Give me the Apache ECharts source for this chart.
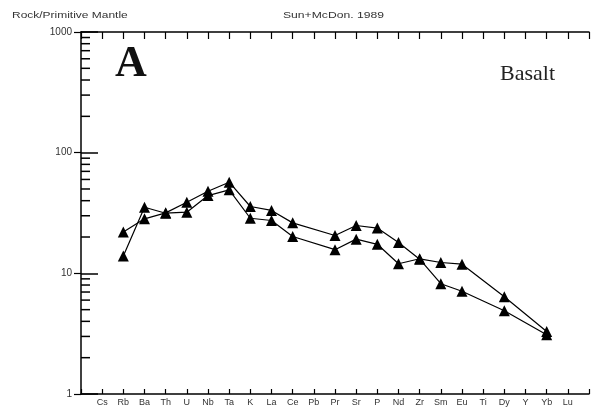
<!DOCTYPE html>
<html>
<head>
<meta charset="utf-8">
<script src="https://cdn.jsdelivr.net/npm/echarts@6/dist/echarts.min.js"></script>
<style>
  html, body { margin: 0; padding: 0; background: #fff; }
  #chart { width: 592px; height: 410px; }
</style>
</head>
<body>
<div id="chart"></div>
<script>
// spider diagram, normalised to primitive mantle (Sun & McDonough 1989)
const elements = ['Cs', 'Rb', 'Ba', 'Th', 'U', 'Nb', 'Ta', 'K', 'La', 'Ce', 'Pb', 'Pr',
  'Sr', 'P', 'Nd', 'Zr', 'Sm', 'Eu', 'Ti', 'Dy', 'Y', 'Yb', 'Lu']

// null = not analysed
const sampleA = [null, 22, 28.3, 31.7, 38.8, 47.9, 56.9, 35.8, 33.2, 26.2, null, 20.6,
  24.9, 23.7, 18.0, 13.1, 8.2, 7.1, null, 4.9, null, 3.1, null]
const sampleB = [null, 13.9, 35.3, 31.5, 32.1, 44.1, 49.2, 28.6, 27.4, 20.2, null, 15.7,
  19.2, 17.4, 12.0, 13.2, 12.3, 11.9, null, 6.4, null, 3.3, null]

const yTicks = [1, 10, 100, 1000]
const minorTicks = [2, 3, 4, 5, 6, 7, 8, 9, 20, 30, 40, 50, 60, 70, 80, 90,
  200, 300, 400, 500, 600, 700, 800, 900]

const sans = '"Liberation Sans", Arial, sans-serif'
const serif = '"Liberation Serif", "Times New Roman", serif'

// x position 0 and 24 are the frame edges, elements sit on 1..23
const toPoints = arr => arr
  .map((v, i) => v == null ? null : [i + 1, v])
  .filter(p => p)

const lineSeries = (name, arr) => ({
  name: name,
  type: 'line',
  data: toPoints(arr),
  symbol: 'triangle',
  symbolSize: 11,
  itemStyle: { color: '#000' },
  lineStyle: { color: '#000', width: 1.2 },
  emphasis: { disabled: true },
  z: 3
})

const xBase = {
  type: 'value',
  min: 0,
  max: elements.length + 1,
  interval: 1,
  axisLine: { lineStyle: { color: '#000', width: 1.5 } },
  splitLine: { show: false }
}

const yBase = {
  type: 'log',
  logBase: 10,
  min: 1,
  max: 1000,
  axisLine: { show: true, lineStyle: { color: '#000', width: 1.5 } },
  splitLine: { show: false }
}

const chart = echarts.init(document.getElementById('chart'), null, { renderer: 'canvas' })

chart.setOption({
  animation: false,
  backgroundColor: '#fff',
  grid: { left: 81, top: 32, width: 512, height: 362 },
  xAxis: [
    Object.assign({}, xBase, {
      position: 'bottom',
      axisTick: { inside: true, length: 5, lineStyle: { color: '#000', width: 1.2 } },
      axisLabel: {
        margin: 4,
        fontSize: 9,
        fontFamily: sans,
        color: '#333',
        formatter: v => elements[v - 1] || ''
      }
    }),
    Object.assign({}, xBase, {
      position: 'top',
      axisTick: { inside: true, length: 7, lineStyle: { color: '#000', width: 1.2 } },
      axisLabel: { show: false }
    })
  ],
  yAxis: [
    Object.assign({}, yBase, {
      position: 'left',
      axisTick: { inside: true, length: 17, lineStyle: { color: '#000', width: 1.5 } },
      axisLabel: {
        margin: 9,
        fontSize: 10,
        fontFamily: sans,
        color: '#333',
        formatter: v => yTicks.indexOf(v) >= 0 ? String(v) : ''
      }
    }),
    Object.assign({}, yBase, {
      position: 'right',
      // frame edge is cropped off in the original, only the ticks show
      axisLine: { show: false },
      axisTick: { inside: true, length: 7, lineStyle: { color: '#000', width: 1.2 } },
      axisLabel: { show: false }
    })
  ],
  graphic: [
    { type: 'text', left: 12, top: 11, scaleX: 1.33,
      style: { text: 'Rock/Primitive Mantle', font: '9px ' + sans, fill: '#333' } },
    { type: 'text', left: 283, top: 11, scaleX: 1.35,
      style: { text: 'Sun+McDon. 1989', font: '9px ' + sans, fill: '#333' } },
    { type: 'text', left: 115, top: 43, style: { text: 'A', font: 'bold 44px ' + serif, fill: '#111' } },
    { type: 'text', left: 500, top: 63, style: { text: 'Basalt', font: '22px ' + serif, fill: '#222' } }
  ],
  series: [
    lineSeries('A', sampleA),
    lineSeries('B', sampleB),
    {
      // log minor ticks on the left axis
      type: 'custom',
      silent: true,
      data: minorTicks.map(v => [0, v]),
      renderItem: (params, api) => {
        const p = api.coord([0, api.value(1)])
        return {
          type: 'line',
          shape: { x1: p[0], y1: p[1], x2: p[0] + 9, y2: p[1] },
          style: { stroke: '#000', lineWidth: 1.5 }
        }
      },
      z: 2
    }
  ]
})
</script>
</body>
</html>
